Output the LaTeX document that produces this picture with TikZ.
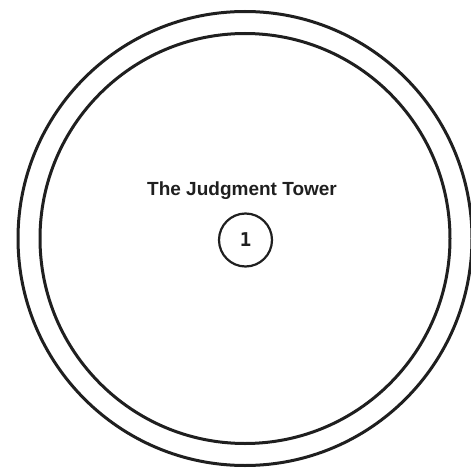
\documentclass[tikz,border=0pt]{standalone}
\usepackage{fontspec}
\setmainfont{Liberation Sans}
\newfontfamily\digitfont{DejaVu Sans Mono}
\begin{document}
\begin{tikzpicture}[x=1pt,y=1pt,
  ring/.style={circle, draw=black!88, line width=3pt, inner sep=0pt},
  badge/.style={circle, draw=black!88, line width=2.2pt, inner sep=0pt, minimum size=53pt, font=\digitfont\bfseries\fontsize{19}{22}\selectfont, text=black!88},
  title/.style={font=\bfseries\fontsize{19}{22}\selectfont, text=black!88, anchor=base}]
\useasboundingbox (0,0) rectangle (471,-468);
\node[ring, minimum size=454pt] (outer) at (245,-238.5) {};
\node[ring, minimum size=410pt] (inner) at (245,-238.5) {};
\node[title] (name) at (242,-195) {The Judgment Tower};
\node[badge] (num) at (245.5,-240) {1};
\end{tikzpicture}
\end{document}
